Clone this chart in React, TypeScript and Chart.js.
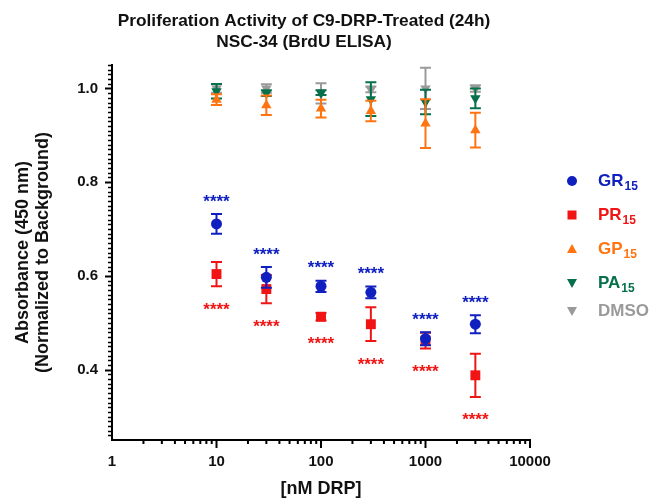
import React, { useEffect, useRef } from 'react';
import { Chart, registerables } from 'chart.js';

Chart.register(...registerables);

const FONT = '"Liberation Sans", Arial, Helvetica, sans-serif';

const titleLines = ['Proliferation Activity of C9-DRP-Treated (24h)', 'NSC-34 (BrdU ELISA)'];
const yTitleLines = ['Absorbance (450 nm)', '(Normalized to Background)'];
const xTitle = '[nM DRP]';

const doses = [10, 30, 100, 300, 1000, 3000];
const xTickValues = [1, 10, 100, 1000, 10000];
const yTickValues = [0.4, 0.6, 0.8, 1.0];

const grMean = [0.711, 0.597, 0.578, 0.565, 0.466, 0.497];
const grErr = [0.021, 0.022, 0.012, 0.0125, 0.014, 0.019];
const prMean = [0.604, 0.572, 0.513, 0.497, 0.462, 0.388];
const prErr = [0.026, 0.03, 0.008, 0.036, 0.017, 0.046];
const gpMean = [0.976, 0.964, 0.957, 0.952, 0.925, 0.911];
const gpErr = [0.0114, 0.0207, 0.019, 0.022, 0.052, 0.037];
const paMean = [0.994, 0.99, 0.991, 0.977, 0.971, 0.979];
const paErr = [0.0157, 0.006, 0.005, 0.036, 0.026, 0.021];
const dmsoMean = [1.0, 1.0, 0.9895, 0.998, 1.0, 1.0];
const dmsoErr = [0.009, 0.009, 0.0217, 0.006, 0.044, 0.007];

const seriesNames = ['GR', 'PR', 'GP', 'PA', 'DMSO'];
const seriesSubs = ['15', '15', '15', '15', ''];
const sigLabel = '****';

const COLORS = ['#1020c0', '#f01414', '#ff7410', '#06704a', '#9a9a9a'];

const errorBarPlugin = {
  id: 'errorBars',
  beforeDatasetDraw(chart: any, args: any) {
    const ds: any = chart.data.datasets[args.index];
    const errs: number[] = ds.errors;
    if (!errs) return;
    const y = chart.scales.y;
    const ctx = chart.ctx;
    ctx.save();
    ctx.strokeStyle = ds.backgroundColor;
    ctx.lineWidth = 2;
    args.meta.data.forEach((pt: any, i: number) => {
      const m = ds.data[i].y;
      const top = y.getPixelForValue(m + errs[i]);
      const bot = y.getPixelForValue(m - errs[i]);
      const x = pt.x;
      ctx.beginPath();
      ctx.moveTo(x, top);
      ctx.lineTo(x, bot);
      ctx.moveTo(x - 5.5, top);
      ctx.lineTo(x + 5.5, top);
      ctx.moveTo(x - 5.5, bot);
      ctx.lineTo(x + 5.5, bot);
      ctx.stroke();
    });
    ctx.restore();
  },
};

const starsPlugin = {
  id: 'stars',
  afterDatasetsDraw(chart: any) {
    const ctx = chart.ctx;
    const y = chart.scales.y;
    ctx.save();
    ctx.font = `bold 17px ${FONT}`;
    ctx.textAlign = 'center';
    ctx.textBaseline = 'alphabetic';
    [0, 1].forEach((di) => {
      const ds: any = chart.data.datasets[di];
      const meta = chart.getDatasetMeta(di);
      ctx.fillStyle = ds.backgroundColor;
      meta.data.forEach((pt: any, i: number) => {
        const m = ds.data[i].y;
        const e = ds.errors[i];
        const cy = di === 0 ? y.getPixelForValue(m + e) - 17 : y.getPixelForValue(m - e) + 19;
        ctx.fillText(sigLabel, pt.x, cy + 9.5);
      });
    });
    ctx.restore();
  },
};

const axisTicksPlugin = {
  id: 'axisTicks',
  afterDraw(chart: any) {
    const ctx = chart.ctx;
    const xs = chart.scales.x;
    const ys = chart.scales.y;
    const { left, bottom } = chart.chartArea;
    ctx.save();
    ctx.strokeStyle = '#000';
    for (let i = 26; i <= 105; i++) {
      const major = i % 20 === 0;
      const py = Math.round(ys.getPixelForValue(i / 100)) + 0.5;
      ctx.lineWidth = major ? 2 : 1.5;
      ctx.beginPath();
      ctx.moveTo(left, py);
      ctx.lineTo(left - (major ? 7 : 4), py);
      ctx.stroke();
    }
    for (let k = 0; k <= 4; k++) {
      for (let m = 1; m <= 9; m++) {
        const v = m * Math.pow(10, k);
        if (v > 10000) break;
        if (v === 1) continue;
        const major = m === 1;
        const px = xs.getPixelForValue(v);
        ctx.lineWidth = 2;
        ctx.beginPath();
        ctx.moveTo(px, bottom);
        ctx.lineTo(px, bottom + (major ? 8 : 4));
        ctx.stroke();
      }
    }
    ctx.restore();
  },
};

const titlePlugin = {
  id: 'customTitle',
  afterDraw(chart: any) {
    const ctx = chart.ctx;
    ctx.save();
    ctx.fillStyle = '#111';
    ctx.font = `bold 17.3px ${FONT}`;
    ctx.textAlign = 'center';
    ctx.textBaseline = 'middle';
    ctx.fillText(titleLines[0], 304, 21.5);
    ctx.fillText(titleLines[1], 304, 42.5);
    ctx.restore();
  },
};

const legendPlugin = {
  id: 'customLegend',
  afterDraw(chart: any) {
    const ctx = chart.ctx;
    const rows = [181, 215, 249, 283, 311];
    const mx = 572;
    const tx = 598;
    ctx.save();
    chart.data.datasets.forEach((ds: any, i: number) => {
      const cy = rows[i];
      ctx.fillStyle = ds.backgroundColor;
      const style = ds.pointStyle;
      ctx.beginPath();
      if (style === 'circle') {
        ctx.arc(mx, cy, 5, 0, Math.PI * 2);
      } else if (style === 'rect') {
        ctx.rect(mx - 4.5, cy - 4.5, 9, 9);
      } else if (ds.rotation === 180) {
        ctx.moveTo(mx - 5, cy - 4);
        ctx.lineTo(mx + 5, cy - 4);
        ctx.lineTo(mx, cy + 5);
      } else {
        ctx.moveTo(mx - 5, cy + 4);
        ctx.lineTo(mx + 5, cy + 4);
        ctx.lineTo(mx, cy - 5);
      }
      ctx.closePath();
      ctx.fill();
      ctx.textAlign = 'left';
      ctx.textBaseline = 'middle';
      ctx.font = `bold 17px ${FONT}`;
      ctx.fillText(seriesNames[i], tx, cy);
      const w = ctx.measureText(seriesNames[i]).width;
      if (seriesSubs[i]) {
        ctx.font = `bold 12px ${FONT}`;
        ctx.fillText(seriesSubs[i], tx + w + 1, cy + 6);
      }
    });
    ctx.restore();
  },
};

function pts(means: number[]) {
  return doses.map((d, i) => ({ x: d, y: means[i] }));
}

export default function App() {
  const ref = useRef<HTMLCanvasElement | null>(null);
  useEffect(() => {
    if (!ref.current) return;
    const mk = (label: string, means: number[], errs: number[], color: string, style: string, radius: number, rotation = 0) => ({
      label,
      data: pts(means),
      errors: errs,
      backgroundColor: color,
      borderColor: color,
      borderWidth: 0,
      pointStyle: style,
      pointRadius: radius,
      pointHoverRadius: radius,
      rotation,
      showLine: false,
    });
    const chart = new Chart(ref.current, {
      type: 'scatter',
      data: {
        datasets: [
          mk('GR15', grMean, grErr, COLORS[0], 'circle', 5.5),
          mk('PR15', prMean, prErr, COLORS[1], 'rect', 7),
          mk('GP15', gpMean, gpErr, COLORS[2], 'triangle', 6),
          mk('PA15', paMean, paErr, COLORS[3], 'triangle', 6, 180),
          mk('DMSO', dmsoMean, dmsoErr, COLORS[4], 'triangle', 6, 180),
        ] as any,
      },
      options: {
        animation: false,
        responsive: true,
        maintainAspectRatio: false,
        layout: { padding: { top: 65, right: 124, left: 0, bottom: 0 } },
        plugins: {
          legend: { display: false },
          title: { display: false },
          tooltip: { enabled: false },
        },
        scales: {
          x: {
            type: 'logarithmic',
            min: 1,
            max: 10000,
            position: 'bottom',
            grid: { display: false, drawTicks: false },
            border: { display: true, color: '#000', width: 2 },
            afterBuildTicks: (s: any) => {
              s.ticks = xTickValues.map((v) => ({ value: v }));
            },
            afterFit: (s: any) => {
              s.height = 61;
            },
            ticks: {
              color: '#111',
              font: { family: FONT, size: 15, weight: 'bold' },
              padding: 13,
              maxRotation: 0,
              autoSkip: false,
              callback: (v: any) => String(v),
            },
            title: {
              display: true,
              text: xTitle,
              color: '#111',
              font: { family: FONT, size: 18, weight: 'bold' },
              padding: { top: 0, bottom: 1 },
            },
          },
          y: {
            type: 'linear',
            min: 0.25,
            max: 1.05,
            grid: { display: false, drawTicks: false },
            border: { display: true, color: '#000', width: 2 },
            afterBuildTicks: (s: any) => {
              s.ticks = yTickValues.map((v) => ({ value: v }));
            },
            afterFit: (s: any) => {
              s.width = 112;
            },
            ticks: {
              color: '#111',
              font: { family: FONT, size: 15, weight: 'bold' },
              padding: 14,
              autoSkip: false,
              callback: (v: any) => Number(v).toFixed(1),
            },
            title: {
              display: true,
              text: yTitleLines,
              color: '#111',
              font: { family: FONT, size: 18, weight: 'bold', lineHeight: 1.1 },
              padding: { top: 13, bottom: 0 },
            },
          },
        },
      } as any,
      plugins: [errorBarPlugin, starsPlugin, axisTicksPlugin, titlePlugin, legendPlugin],
    });
    return () => chart.destroy();
  }, []);
  return (
    <div style={{ position: 'fixed', left: 0, top: 0, width: 654, height: 501, background: '#fff' }}>
      <canvas ref={ref} />
    </div>
  );
}
